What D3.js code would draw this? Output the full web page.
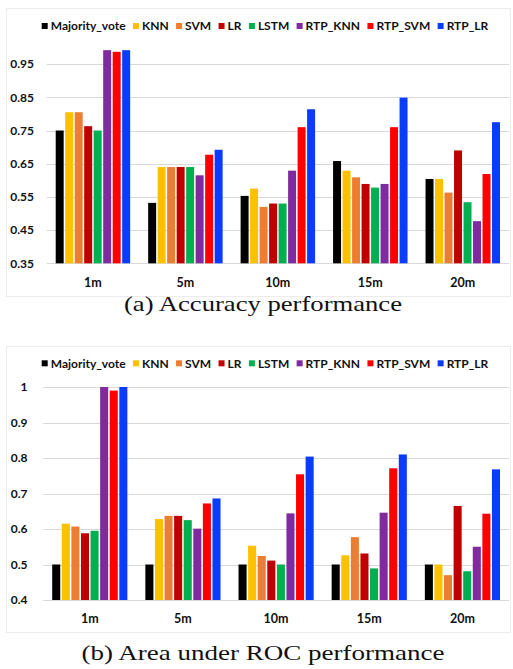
<!DOCTYPE html>
<html>
<head>
<meta charset="utf-8">
<script src="https://cdn.jsdelivr.net/npm/d3@7"></script>
<style>
  html, body { margin: 0; padding: 0; background: #fff; }
  svg { display: block; }
</style>
</head>
<body>
<svg id="fig" width="513" height="669"></svg>
<script>
// Time windows and methods
const categories = ["1m", "5m", "10m", "15m", "20m"];
const methods = ["Majority_vote", "KNN", "SVM", "LR", "LSTM", "RTP_KNN", "RTP_SVM", "RTP_LR"];
const methodColors = ["#000000", "#FFC000", "#ED7D31", "#C00000", "#00B050", "#7F2A9E", "#FF0000", "#0A3CFF"];

// (a) Accuracy, one array per method, in category order
const accMajorityVote = [0.750, 0.532, 0.553, 0.658, 0.604];
const accKNN          = [0.805, 0.640, 0.575, 0.629, 0.604];
const accSVM          = [0.805, 0.640, 0.520, 0.609, 0.563];
const accLR           = [0.763, 0.640, 0.530, 0.589, 0.690];
const accLSTM         = [0.750, 0.640, 0.530, 0.578, 0.534];
const accRTP_KNN      = [0.992, 0.615, 0.629, 0.589, 0.477];
const accRTP_SVM      = [0.987, 0.677, 0.760, 0.760, 0.619];
const accRTP_LR       = [0.992, 0.692, 0.814, 0.849, 0.775];
const accTicks = [0.35, 0.45, 0.55, 0.65, 0.75, 0.85, 0.95];

// (b) Area under ROC, one array per method
const aucMajorityVote = [0.500, 0.500, 0.500, 0.500, 0.500];
const aucKNN          = [0.615, 0.628, 0.553, 0.526, 0.500];
const aucSVM          = [0.607, 0.637, 0.524, 0.577, 0.470];
const aucLR           = [0.588, 0.637, 0.511, 0.531, 0.665];
const aucLSTM         = [0.595, 0.625, 0.500, 0.489, 0.481];
const aucRTP_KNN      = [1.000, 0.601, 0.644, 0.646, 0.550];
const aucRTP_SVM      = [0.990, 0.672, 0.754, 0.771, 0.643];
const aucRTP_LR       = [1.000, 0.686, 0.804, 0.810, 0.768];
const aucTicks = [0.4, 0.5, 0.6, 0.7, 0.8, 0.9, 1];
const aucTickLabels = ["0.4", "0.5", "0.6", "0.7", "0.8", "0.9", "1"];

const captions = ["(a) Accuracy performance", "(b) Area under ROC performance"];

const accSeries = [accMajorityVote, accKNN, accSVM, accLR, accLSTM, accRTP_KNN, accRTP_SVM, accRTP_LR];
const aucSeries = [aucMajorityVote, aucKNN, aucSVM, aucLR, aucLSTM, aucRTP_KNN, aucRTP_SVM, aucRTP_LR];

const svg = d3.select("#fig");
const labelFont = "Lato, 'Open Sans', sans-serif";

function drawPanel(opt) {
  const g = svg.append("g");

  // faint chart-area frame
  g.append("rect")
    .attr("x", opt.frame[0]).attr("y", opt.frame[1])
    .attr("width", opt.frame[2]).attr("height", opt.frame[3])
    .attr("fill", "none").attr("stroke", "#ececec").attr("stroke-width", 1);

  const x0 = d3.scaleBand().domain(categories).range([opt.left, opt.right]).paddingInner(0).paddingOuter(0);
  const inner = 9;
  const x1 = d3.scaleBand().domain(methods)
    .range([inner, x0.bandwidth() - inner]).paddingInner(0.16).paddingOuter(0);
  const y = d3.scaleLinear().domain(opt.domain).range([opt.bottom, opt.top]);

  // gridlines
  g.append("g").selectAll("line").data(opt.ticks).join("line")
    .attr("x1", opt.left).attr("x2", opt.right)
    .attr("y1", d => Math.round(y(d)) + 0.5).attr("y2", d => Math.round(y(d)) + 0.5)
    .attr("stroke", "#d9d9d9").attr("stroke-width", 1);

  // y axis labels
  const yAxis = d3.axisLeft(y).tickValues(opt.ticks).tickSize(0).tickPadding(0)
    .tickFormat((d, i) => opt.tickLabels[i]);
  const ya = g.append("g").attr("transform", `translate(${opt.labelX},0)`).call(yAxis);
  ya.select(".domain").remove();
  ya.selectAll("text")
    .attr("font-family", labelFont).attr("font-weight", 700)
    .attr("font-size", 12).attr("fill", "#111");

  // x axis labels
  const xa = g.append("g").attr("transform", `translate(0,${opt.xLabelY})`)
    .call(d3.axisBottom(x0).tickSize(0).tickPadding(0));
  xa.select(".domain").remove();
  xa.selectAll("text")
    .attr("font-family", labelFont).attr("font-weight", 700)
    .attr("font-size", 12.5).attr("fill", "#111").attr("dy", "0.35em");

  // bars
  const groups = g.append("g").selectAll("g").data(categories).join("g")
    .attr("transform", c => `translate(${x0(c)},0)`);
  groups.selectAll("rect")
    .data((c, ci) => methods.map((m, mi) => ({ m, mi, v: opt.series[mi][ci] })))
    .join("rect")
    .attr("x", d => x1(d.m))
    .attr("width", x1.bandwidth())
    .attr("y", d => y(d.v))
    .attr("height", d => y(opt.domain[0]) - y(d.v))
    .attr("fill", d => methodColors[d.mi]);

  // legend: items spread across the available width
  const lg = g.append("g").attr("transform", `translate(${opt.legendX},${opt.legendY})`);
  const items = methods.map((m, i) => {
    const it = lg.append("g");
    it.append("rect").attr("x", 0).attr("y", -3).attr("width", 6).attr("height", 6)
      .attr("fill", methodColors[i]);
    const t = it.append("text").attr("x", 9).attr("y", 0).attr("dy", "0.35em")
      .attr("font-family", labelFont).attr("font-weight", 700)
      .attr("font-size", 12).attr("fill", "#111").text(m);
    return { it, w: 9 + t.node().getComputedTextLength() };
  });
  const used = d3.sum(items, d => d.w);
  const gap = (opt.legendWidth - used) / (items.length - 1);
  let cx = 0;
  items.forEach(d => { d.it.attr("transform", `translate(${cx},0)`); cx += d.w + gap; });

  // caption
  svg.append("text")
    .attr("x", 263).attr("y", opt.captionY)
    .attr("text-anchor", "middle")
    .attr("font-family", "'Liberation Serif', 'DejaVu Serif', serif")
    .attr("font-size", 21).attr("fill", "#111")
    .attr("textLength", opt.captionWidth).attr("lengthAdjust", "spacingAndGlyphs")
    .text(opt.caption);
}

drawPanel({
  series: accSeries, domain: [0.35, 1.0], ticks: accTicks,
  tickLabels: accTicks.map(d => d.toFixed(2)),
  left: 46.7, right: 509, top: 47.5, bottom: 263.3,
  labelX: 34, xLabelY: 282.5,
  legendX: 41.7, legendY: 26, legendWidth: 446.6,
  frame: [6.5, 8.5, 504, 288],
  caption: captions[0], captionY: 311, captionWidth: 278
});

drawPanel({
  series: aucSeries, domain: [0.4, 1.0], ticks: aucTicks,
  tickLabels: aucTickLabels,
  left: 43.2, right: 509, top: 387, bottom: 600,
  labelX: 27.5, xLabelY: 618.5,
  legendX: 41.7, legendY: 363.3, legendWidth: 446.6,
  frame: [6.5, 346.5, 504, 286],
  caption: captions[1], captionY: 660, captionWidth: 363
});
</script>
</body>
</html>
